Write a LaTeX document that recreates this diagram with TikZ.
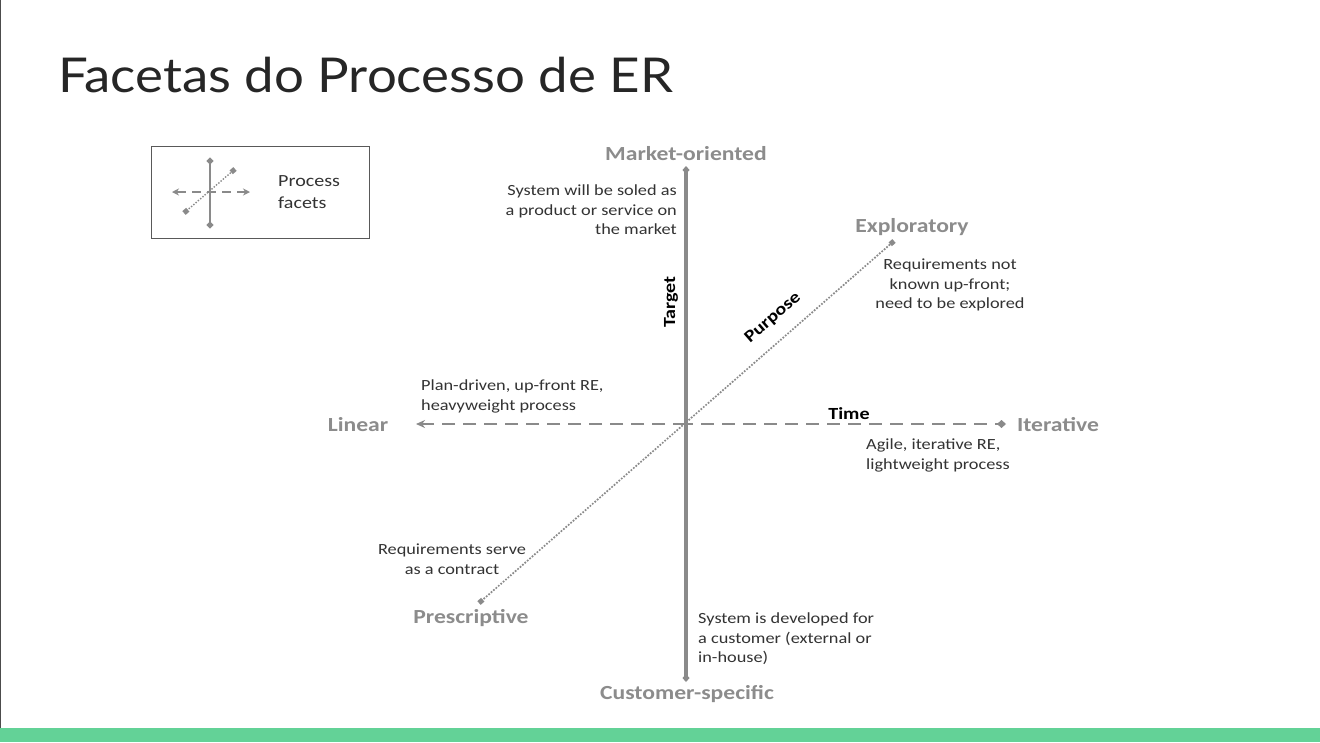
\documentclass[tikz,border=0pt]{standalone}
\usepackage{fontspec}
\setmainfont{Carlito}[FakeStretch=1.18]
\newfontfamily\titlefont{Lato}[FakeStretch=1.1]
\usetikzlibrary{arrows.meta}
\definecolor{axisgray}{HTML}{8A8A8A}
\definecolor{labgray}{HTML}{8C8C8C}
\definecolor{txt}{HTML}{333333}
\definecolor{greenbar}{HTML}{63D297}
\tikzset{
  pole/.style={font=\fontsize{20}{22}\selectfont\bfseries, text=labgray, inner sep=0pt},
  note/.style={font=\fontsize{15.5}{19.5}\selectfont, text=txt, inner sep=0pt, align=#1},
  axname/.style={font=\fontsize{17}{19}\selectfont\bfseries, text=black, inner sep=0pt},
  vaxis/.style={draw=axisgray, line width=3.2pt},
  haxis/.style={draw=axisgray, line width=2.8pt, dash pattern=on 13pt off 8pt},
  daxis/.style={draw=axisgray, line width=2.4pt, line cap=round, dash pattern=on 0pt off 3.2pt},
}
\begin{document}
\begin{tikzpicture}[x=1pt,y=-1pt]
\useasboundingbox (0,0) rectangle (1320,742);
\fill[white] (0,0) rectangle (1320,742);
\fill[greenbar] (0,728) rectangle (1320,742);
\draw[black!70, line width=1pt] (0.5,0) -- (0.5,728);
% title
\node[anchor=base west, inner sep=0pt, font=\titlefont\fontsize{48}{50}\selectfont, text=black!85] (title) at (58,92) {Facetas do Processo de ER};
% legend
\node[draw=black!65, line width=1.2pt, minimum width=218pt, minimum height=92pt, anchor=north west, inner sep=0pt] (legend) at (151,146) {};
\coordinate (lt) at (210,158); \coordinate (lb) at (210,228);
\coordinate (ll) at (172,192); \coordinate (lr) at (250,192);
\coordinate (ld1) at (184,213); \coordinate (ld2) at (235,169);
\draw[draw=axisgray, line width=2.6pt, {Circle[length=6pt]}-{Circle[length=6pt]}] (lb) -- (lt);
\draw[draw=axisgray, line width=2.2pt, dash pattern=on 9pt off 6pt, {Stealth[length=7pt,width=7pt]}-{Stealth[length=7pt,width=7pt]}] (lr) -- (ll);
\draw[draw=axisgray, line width=2pt, line cap=round, dash pattern=on 0pt off 3pt, {Square[length=5pt,width=5pt]}-{Square[length=5pt,width=5pt]}] (ld1) -- (ld2);
\node[note=left, anchor=west, text=black!80, font=\fontsize{17}{22}\selectfont] (legtxt) at (278,192) {Process\\facets};
% axes coordinates
\coordinate (top) at (686,166); \coordinate (bot) at (686,682);
\coordinate (left) at (416,424); \coordinate (right) at (1006,424);
\coordinate (pre) at (479,603); \coordinate (exp) at (894,241);
\draw[vaxis, {Diamond[length=8pt,width=7pt]}-{Diamond[length=8pt,width=7pt]}] (bot) -- (top);
\draw[haxis, -{Diamond[length=9pt,width=8pt]}] (680,424) -- (right);
\draw[haxis, -{Stealth[length=9pt,width=8pt]}] (686,424) -- (left);
\draw[daxis, {Square[length=5pt,width=5pt]}-{Square[length=5pt,width=5pt]}] (pre) -- (exp);
% pole labels
\node[pole] (mo) at (686,154) {Market-oriented};
\node[pole] (cs) at (687,694) {Customer-specific};
\node[pole] (lin) at (358,425) {Linear};
\node[pole] (it) at (1058,425) {Iterative};
\node[pole] (ex) at (912,227) {Exploratory};
\node[pole] (pr) at (471,618) {Prescriptive};
% axis names
\node[axname, rotate=90] (target) at (671,302) {Target};
\node[axname, rotate=41] (purpose) at (773,318) {Purpose};
\node[axname] (time) at (849,414) {Time};
% notes
\node[note=right, anchor=north east] (n1) at (677,185) {System will be soled as\\a product or service on\\the market};
\node[note=center, anchor=north] (n2) at (950,259) {Requirements not\\known up-front;\\need to be explored};
\node[note=left, anchor=north west] (n3) at (421,380) {Plan-driven, up-front RE,\\heavyweight process};
\node[note=left, anchor=north west] (n4) at (866,439) {Agile, iterative RE,\\lightweight process};
\node[note=center, anchor=north] (n5) at (452,544) {Requirements serve\\as a contract};
\node[note=left, anchor=north west] (n6) at (698,613) {System is developed for\\a customer (external or\\in-house)};
\end{tikzpicture}
\end{document}
